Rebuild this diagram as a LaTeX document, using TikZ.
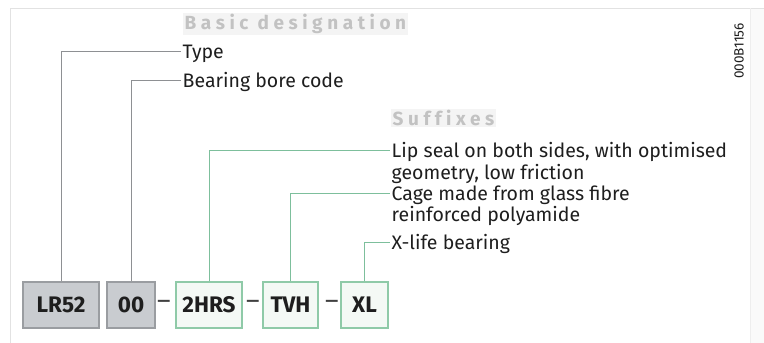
\documentclass[tikz,border=0pt]{standalone}
\usepackage{fontspec}
\setmainfont{Fira Sans}
\definecolor{txt}{HTML}{1E1E1E}
\definecolor{glink}{HTML}{8E9093}
\definecolor{slink}{HTML}{7DBF9C}
\definecolor{gfill}{HTML}{C9CCD0}
\definecolor{gbord}{HTML}{9A9DA1}
\definecolor{sfill}{HTML}{F4F9F5}
\definecolor{sbord}{HTML}{8FCAA8}
\definecolor{ttl}{HTML}{C2C2C2}
\definecolor{ttlbg}{HTML}{F4F4F4}
\definecolor{frame}{HTML}{E2E2E2}
\tikzset{
  x=1pt, y=-1pt,
  lbl/.style={anchor=west, inner ysep=0pt, inner xsep=1.5pt, text height=14pt, text depth=0pt, font=\fontsize{19.5}{22}\selectfont, text=txt},
  lbl2/.style={anchor=base west, inner ysep=0pt, inner xsep=1.5pt, font=\fontsize{19.5}{22}\selectfont, text=txt},
  ttlnode/.style={anchor=west, fill=ttlbg, inner sep=1.5pt, text=ttl, font=\fontsize{19}{22}\selectfont\bfseries\addfontfeature{LetterSpace=24,Ligatures=NoCommon}},
  codebox/.style={draw, line width=1.1pt, minimum height=46pt, inner sep=0pt, font=\fontsize{22.5}{26}\selectfont\bfseries, text=txt},
  basebox/.style={codebox, fill=gfill, draw=gbord},
  sufbox/.style={codebox, fill=sfill, draw=sbord},
  baselink/.style={draw=glink, line width=1pt},
  suflink/.style={draw=slink, line width=1pt},
  dashnode/.style={font=\fontsize{26}{28}\selectfont, text=txt!85, inner sep=0pt},
}
\begin{document}
\begin{tikzpicture}
\useasboundingbox (0,0) rectangle (764,343);
% frame
\fill[white] (0,0) rectangle (764,343);
\fill[black!2] (750,8) rectangle (764,343);
\draw[frame, line width=1pt] (10,343) -- (10,8) -- (764,8);
\draw[frame!60, line width=0.6pt] (750,8) -- (750,343);
% titles
\node[ttlnode] (basic) at (183,24) {Basic designation};
\node[ttlnode] (suff) at (391,118) {Suffixes};
% boxes
\node[basebox, minimum width=76pt] (lr) at (61,305) {LR52};
\node[basebox, minimum width=48pt] (bore) at (131,305) {00};
\node[dashnode] (d1) at (164,305) {–};
\node[sufbox, minimum width=66pt] (hrs) at (209,305) {2HRS};
\node[dashnode] (d2) at (253,305) {–};
\node[sufbox, minimum width=55pt] (tvh) at (290.5,305) {TVH};
\node[dashnode] (d3) at (332,305) {–};
\node[sufbox, minimum width=47pt] (xl) at (364.5,305) {XL};
% labels
\node[lbl] (type) at (181,51) {Type};
\node[lbl] (borecode) at (181,80) {Bearing bore code};
\node[lbl] (lip) at (390,150) {Lip seal on both sides, with optimised};
\node[lbl2] (lipb) at (lip.base west) [yshift=-22pt] {geometry, low friction};
\node[lbl] (cage) at (390,193) {Cage made from glass fibre};
\node[lbl2] (cageb) at (cage.base west) [yshift=-21pt] {reinforced polyamide};
\node[lbl] (xlife) at (390,242) {X-life bearing};
% connectors
\draw[baselink] (lr.north) |- (type.west);
\draw[baselink] (bore.north) |- (borecode.west);
\draw[suflink] (hrs.north) |- (lip.west);
\draw[suflink] (tvh.north) |- (cage.west);
\draw[suflink] (xl.north) |- (xlife.west);
% drawing number
\node[rotate=90, font=\fontsize{13.5}{15}\selectfont, text=txt, inner sep=0pt] (num) at (739,51) {000B1156};
\end{tikzpicture}
\end{document}
